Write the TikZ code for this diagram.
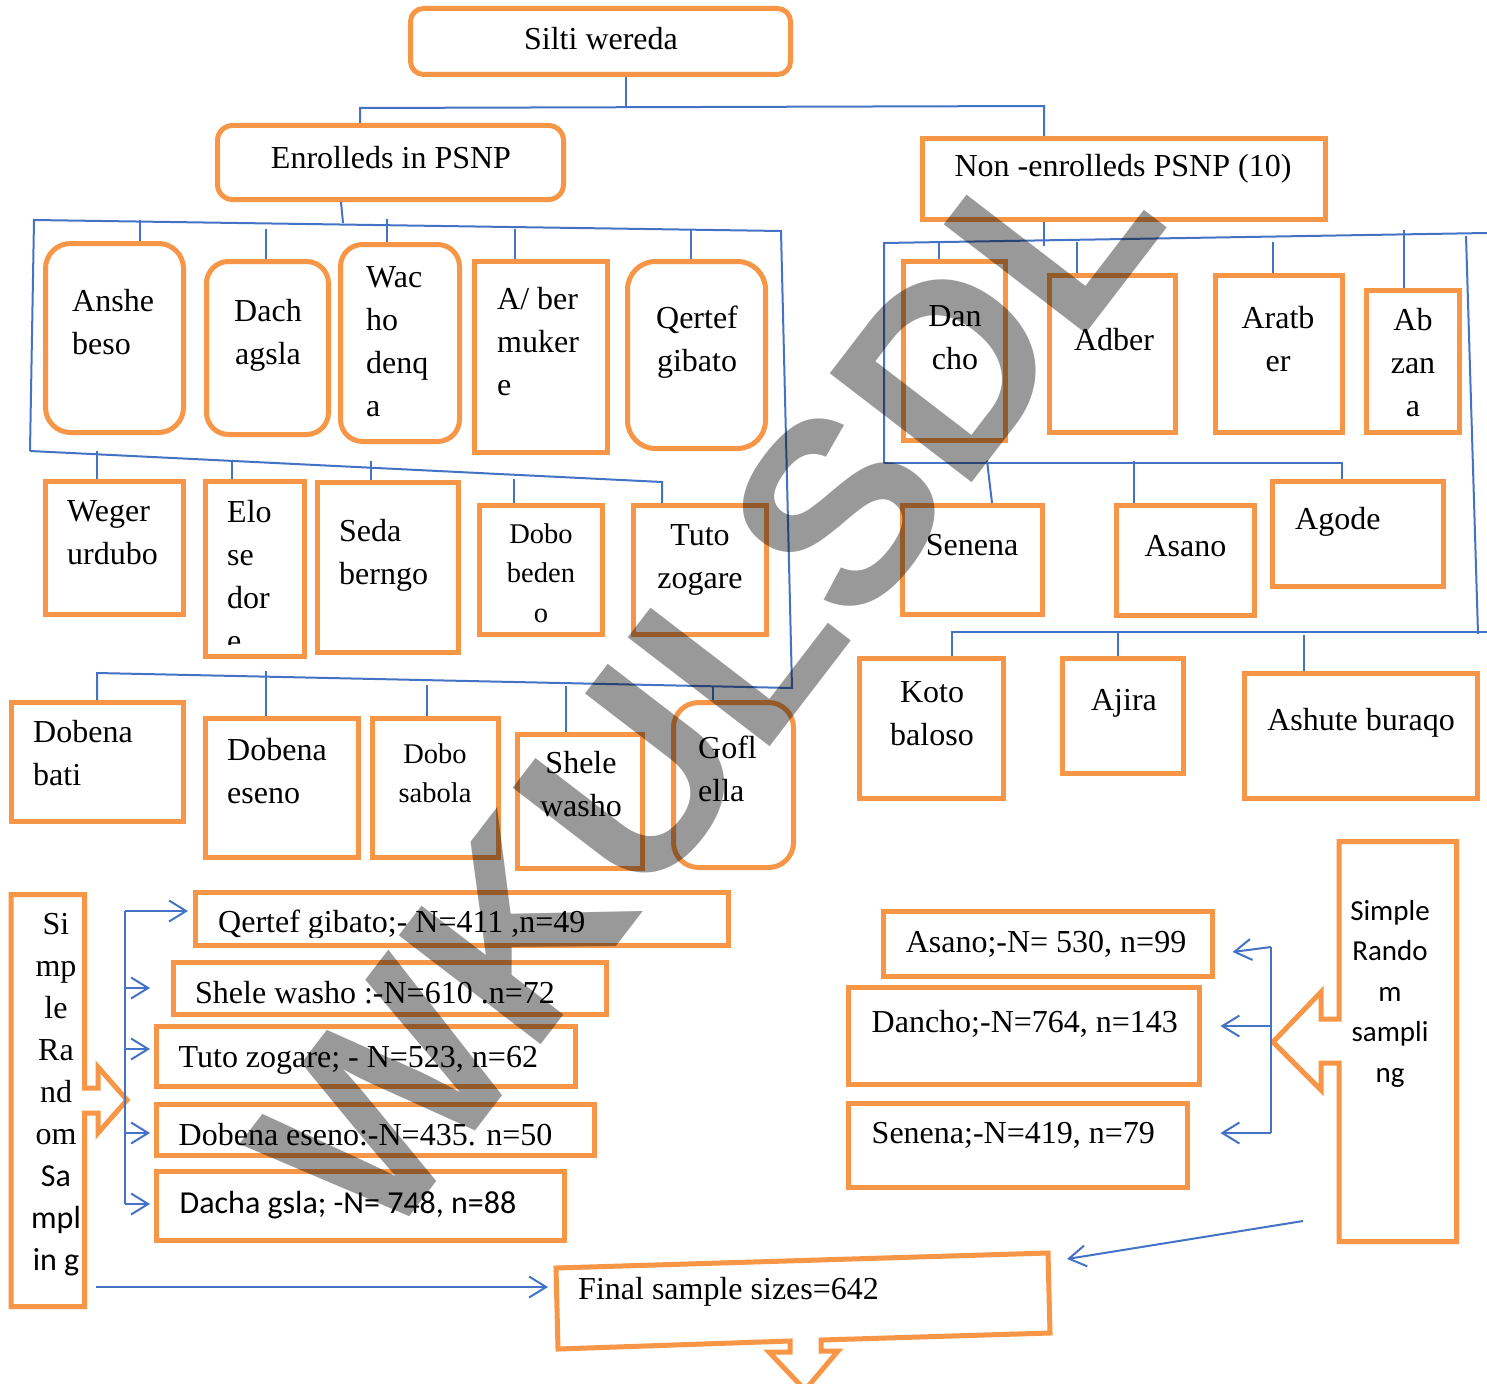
\documentclass[tikz,border=0pt]{standalone}
\usepackage{fontspec}
\setmainfont{Liberation Serif}
\newfontfamily\calfont{Carlito}
\newfontfamily\wmfont{Liberation Sans}
\usetikzlibrary{arrows.meta, fit}
\definecolor{cBox}{RGB}{247,150,70}
\definecolor{cLine}{RGB}{68,114,196}
\newcommand{\fmain}{\fontsize{32}{43}\selectfont}
\newcommand{\fsmall}{\fontsize{28.5}{39.5}\selectfont}
\newcommand{\fcal}{\calfont\fontsize{32}{43}\selectfont}
\newcommand{\fsrs}{\calfont\fontsize{29}{40.5}\selectfont}

\begin{document}
\begin{tikzpicture}[x=1pt, y=-1pt,
      box/.style={draw=cBox, line width=5pt, fill=white, inner sep=0pt},
      rbox/.style={box, rounded corners=22pt},
      txt/.style={font=\fmain, inner sep=0pt, align=left},
      ctxt/.style={txt, align=center},
      wire/.style={draw=cLine, line width=2pt},
      >={Straight Barb[length=17pt, width=21pt]}]
  \useasboundingbox (0,0) rectangle (1487,1383);
  \fill[white] (0,0) rectangle (1487,1383);

  % top level
  \node[rbox, rounded corners=13pt, fit={(410.5,8.5) (790.5,74.5)}] (silti) {};
  \node[rbox, rounded corners=15pt, fit={(217.5,125.5) (563.5,199.5)}] (enr) {};
  \node[box, fit={(922.5,138.5) (1325,219.5)}] (non) {};
  \node[ctxt, anchor=base] (silti-t) at (601,50) {Silti wereda};
  \node[ctxt, anchor=base] (enr-t) at (391,168) {Enrolleds in PSNP};
  \node[ctxt, anchor=base] (non-t) at (1123,177) {Non -enrolleds PSNP (10)};

  % enrolled kebeles (base = last line)
  \node[rbox, rounded corners=25pt, fit={(45.5,243.5) (183.5,432.5)}] (anshe) {};
  \node[rbox, fit={(206.5,261.5) (328.5,434.5)}] (dach) {};
  \node[rbox, fit={(340.5,244.5) (459.5,441.5)}] (wac) {};
  \node[box, fit={(474.5,261.5) (607.5,452.5)}] (aber) {};
  \node[rbox, rounded corners=28pt, fit={(627.5,261.5) (765.5,448.5)}] (qert) {};
  \node[box, fit={(45.5,481.5) (183.5,614.5)}] (weger) {};
  \node[box, fit={(205.5,481.5) (304.5,656.5)}] (elo) {};
  \node[box, fit={(317.5,482.5) (458.5,652.5)}] (seda) {};
  \node[box, fit={(479.5,505.5) (602.5,634.5)}] (dbeden) {};
  \node[box, fit={(633.5,505.5) (766.5,634.5)}] (tuto) {};
  \node[box, fit={(11.5,702.5) (183.5,821.5)}] (dbati) {};
  \node[box, fit={(205.5,718.5) (358.5,857.5)}] (deseno) {};
  \node[box, fit={(372.5,718.5) (498.5,857.5)}] (dsabola) {};
  \node[box, fit={(517.5,734.5) (642.5,868.5)}] (shele) {};
  \node[rbox, rounded corners=25pt, fit={(673.5,702.5) (793.5,867.5)}] (gofl) {};

  \node[txt, anchor=base west] (anshe-t) at (72,354) {Anshe\\beso};
  \node[ctxt, anchor=base] (dach-t) at (268,364) {Dach\\agsla};
  \node[txt, anchor=base west] (wac-t) at (366,416) {Wac\\ho\\denq\\a};
  \node[txt, anchor=base west] (aber-t) at (497,395) {A/ ber\\muker\\e};
  \node[ctxt, anchor=base] (qert-t) at (697,371) {Qertef\\gibato};
  \node[txt, anchor=base west] (weger-t) at (67,564) {Weger\\urdubo};
  \begin{scope}
    \clip (208,484) rectangle (302,644);
    \node[txt, anchor=base west] (elo-t) at (227,651) {Elo\\se\\dor\\e};
  \end{scope}
  \node[txt, anchor=base west] (seda-t) at (339,584) {Seda\\berngo};
  \node[ctxt, font=\fsmall, anchor=base] (dbeden-t) at (541,622) {Dobo\\beden\\o};
  \node[ctxt, anchor=base] (tuto-t) at (700,588) {Tuto\\zogare};
  \node[txt, anchor=base west] (dbati-t) at (33,785) {Dobena\\bati};
  \node[txt, anchor=base west] (deseno-t) at (227,803) {Dobena\\eseno};
  \node[ctxt, font=\fsmall, anchor=base] (dsabola-t) at (435,802.5) {Dobo\\sabola};
  \node[ctxt, anchor=base] (shele-t) at (581,816) {Shele\\washo};
  \node[txt, anchor=base west] (gofl-t) at (698,801) {Gofl\\ella};

  % non-enrolled kebeles
  \node[box, fit={(903.5,261.5) (1005.5,440.5)}] (dancho) {};
  \node[box, fit={(1049.5,275.5) (1175.5,432.5)}] (adber) {};
  \node[box, fit={(1215.5,275.5) (1342.5,432.5)}] (aratber) {};
  \node[box, fit={(1366.5,290.5) (1459.5,432.5)}] (abzana) {};
  \node[box, fit={(902.5,505.5) (1042.5,614.5)}] (senena) {};
  \node[box, fit={(1116.5,505.5) (1254.5,615.5)}] (asano) {};
  \node[box, fit={(1272.5,481.5) (1443.5,586.5)}] (agode) {};
  \node[box, fit={(859.5,658.5) (1003.5,798.5)}] (koto) {};
  \node[box, fit={(1062.5,658.5) (1183.5,773.5)}] (ajira) {};
  \node[box, fit={(1244.5,673.5) (1477.5,798.5)}] (ashute) {};

  \node[ctxt, anchor=base] (dancho-t) at (955,369) {Dan\\cho};
  \node[ctxt, anchor=base] (adber-t) at (1114,350) {Adber};
  \node[ctxt, anchor=base] (aratber-t) at (1278,371) {Aratb\\er};
  \node[ctxt, anchor=base] (abzana-t) at (1413,416) {Ab\\zan\\a};
  \node[ctxt, anchor=base] (senena-t) at (972,555) {Senena};
  \node[ctxt, anchor=base] (asano-t) at (1185.5,556) {Asano};
  \node[txt, anchor=base west] (agode-t) at (1295,529) {Agode};
  \node[ctxt, anchor=base] (koto-t) at (932,745) {Koto\\baloso};
  \node[ctxt, anchor=base] (ajira-t) at (1124,710) {Ajira};
  \node[ctxt, anchor=base] (ashute-t) at (1361,730) {Ashute buraqo};

  % connectors of the tree
  \coordinate (forkT) at (626,107);
  \coordinate (forkL) at (360,108);
  \coordinate (forkR) at (1044,106);
  \draw[wire] (silti.south -| forkT) -- (forkT);
  \draw[wire] (enr.north -| forkL) -- (forkL) -- (forkR) -- (non.north -| forkR);

  \coordinate (busA1) at (34,220);
  \coordinate (busA2) at (781,231);
  \coordinate (busB1) at (30,451);
  \coordinate (busB2) at (662,482);
  \coordinate (busC1) at (97,673);
  \coordinate (busC2) at (792,688);
  \draw[wire] ([xshift=-49.5pt]enr.south) -- ++(2,21);
  \draw[wire] (busB1) -- (busA1) -- (busA2) -- (busC2) -- (busC1) -- (dbati.north -| busC1);
  \draw[wire] (busB1) -- (busB2) -- (tuto.north -| busB2);
  \draw[wire] ([xshift=25.5pt]anshe.north) -- ++(0,-21.5);
  \draw[wire] ([xshift=-1.5pt]dach.north) -- ++(0,-30.5);
  \draw[wire] ([xshift=-13pt]wac.north) -- ++(0,-23.5);
  \draw[wire] ([xshift=-26pt]aber.north) -- ++(0,-30.5);
  \draw[wire] ([xshift=-5.5pt]qert.north) -- ++(0,-30.5);
  \draw[wire] ([xshift=-17.5pt]weger.north) -- ++(0,-28.5);
  \draw[wire] ([xshift=-23pt]elo.north) -- ++(0,-18.5);
  \draw[wire] ([xshift=-17pt]seda.north) -- ++(0,-19.5);
  \draw[wire] ([xshift=-27pt]dbeden.north) -- ++(0,-24.5);
  \draw[wire] ([xshift=-16pt]deseno.north) -- ++(0,-45.5);
  \draw[wire] ([xshift=-8.5pt]dsabola.north) -- ++(0,-31.5);
  \draw[wire] ([xshift=-14pt]shele.north) -- ++(0,-46.5);
  \draw[wire] ([xshift=-20.5pt]gofl.north) -- ++(0,-14.5);

  \coordinate (busD1) at (884,243);
  \coordinate (busD2) at (1487,233);
  \coordinate (busE1) at (884,463);
  \coordinate (busE2) at (1342,463);
  \coordinate (busF1) at (1466,236);
  \coordinate (busF2) at (1478,634);
  \coordinate (busG1) at (952,632);
  \coordinate (busG2) at (1487,632);
  \draw[wire] (non.south -| forkR) -- ++(0,23.5);
  \draw[wire] (busE1) -- (busD1) -- (busD2);
  \draw[wire] (busE1) -- (busE2) -- (agode.north -| busE2);
  \draw[wire] (busF1) -- (busF2);
  \draw[wire] (koto.north -| busG1) -- (busG1) -- (busG2);
  \draw[wire] ([xshift=-15.5pt]dancho.north) -- ++(0,-18.5);
  \draw[wire] ([xshift=-35.5pt]adber.north) -- ++(0,-31.5);
  \draw[wire] ([xshift=-6pt]aratber.north) -- ++(0,-31.5);
  \draw[wire] ([xshift=-9pt]abzana.north) -- ++(0,-58.5);
  \draw[wire] ([xshift=19.5pt]senena.north) -- ++(-5,-42.5);
  \draw[wire] ([xshift=-51.5pt]asano.north) -- ++(0,-42.5);
  \draw[wire] ([xshift=-5pt]ajira.north) -- ++(0,-24.5);
  \draw[wire] ([xshift=-57pt]ashute.north) -- ++(0,-36.5);

  % sampling, enrolled side
  \draw[box] (11,894.5) -- (84.5,894.5) -- (84.5,1088) -- (98,1088) -- (98,1067)
    -- (127,1100) -- (98,1133) -- (98,1113) -- (84.5,1113) -- (84.5,1306.5)
    -- (11,1306.5) -- cycle;
  \node[ctxt, font=\fontsize{32}{42}\selectfont, anchor=base] (srsL) at (56,1270)
    {Si\\mp\\le\\Ra\\nd\\om\\{\calfont Sa}\\{\calfont mpl}\\{\calfont in g}};
  \node[box, fit={(195.5,892.5) (728.5,945.5)}] (nQert) {};
  \node[box, fit={(173.5,962.5) (606.5,1014.5)}] (nShele) {};
  \node[box, fit={(156.5,1026.5) (575,1086.5)}] (nTuto) {};
  \node[box, fit={(156.5,1104.5) (594.5,1155.5)}] (nDobena) {};
  \node[box, fit={(156.5,1171.5) (564.5,1240.5)}] (nDacha) {};
  \begin{scope}
    \clip (198,895) rectangle (726,937);
    \node[txt, anchor=base west] (nQert-t) at (218,932) {Qertef gibato;- N=411 ,n=49};
  \end{scope}
  \node[txt, anchor=base west] (nShele-t) at (195,1003) {Shele washo :-N=610 .n=72};
  \node[txt, anchor=base west] (nTuto-t) at (178.5,1067) {Tuto zogare; - N=523, n=62};
  \node[txt, anchor=base west] (nDobena-t) at (178.5,1145) {Dobena eseno:-N=435. n=50};
  \node[txt, font=\fcal, anchor=base west] (nDacha-t) at (179.5,1213) {Dacha gsla; -N= 748, n=88};

  \coordinate (brL1) at (125,911);
  \coordinate (brL2) at (125,988);
  \coordinate (brL3) at (125,1049);
  \coordinate (brL4) at (125,1133);
  \coordinate (brL5) at (125,1204);
  \draw[wire] (brL1) -- (brL5);
  \draw[wire, ->, shorten >=5pt] (brL1) -- (nQert.west |- brL1);
  \draw[wire, ->, shorten >=21pt] (brL2) -- (nShele.west |- brL2);
  \draw[wire, ->, shorten >=4pt] (brL3) -- (nTuto.west |- brL3);
  \draw[wire, ->, shorten >=4pt] (brL4) -- (nDobena.west |- brL4);
  \draw[wire, ->, shorten >=4pt] (brL5) -- (nDacha.west |- brL5);

  % sampling, non-enrolled side
  \draw[box] (1339,841.5) -- (1456.5,841.5) -- (1456.5,1241.5) -- (1339,1241.5)
    -- (1339,1063) -- (1321,1063) -- (1321,1090) -- (1273,1042) -- (1321,992)
    -- (1321,1019) -- (1339,1019) -- cycle;
  \node[ctxt, font=\fsrs, anchor=base] (srsR) at (1390,1082) {Simple\\Rando\\m\\sampli\\ng};
  \node[box, fit={(883.5,911.5) (1212.5,976.5)}] (nAsano) {};
  \node[box, fit={(848.5,987.5) (1199.5,1084.5)}] (nDancho) {};
  \node[box, fit={(848.5,1103.5) (1187.5,1187.5)}] (nSenena) {};
  \node[ctxt, anchor=base] (nAsano-t) at (1046,952) {Asano;-N= 530, n=99};
  \node[txt, anchor=base west] (nDancho-t) at (871.5,1032) {Dancho;-N=764, n=143};
  \node[txt, anchor=base west] (nSenena-t) at (871.5,1143) {Senena;-N=419, n=79};

  \coordinate (brR1) at (1271,947);
  \coordinate (brR2) at (1271,1026);
  \coordinate (brR3) at (1271,1133);
  \draw[wire] (brR1) -- (brR3);
  \draw[wire, ->] (brR1) -- ([shift={(17.5,8)}]nAsano.east);
  \draw[wire, ->] (brR2) -- ([shift={(18.5,-10)}]nDancho.east);
  \draw[wire, ->] (brR3) -- ([shift={(30.5,-12.5)}]nSenena.east);

  % final sample
  \draw[box] (556,1268) -- (1048,1253) -- (1050,1333) -- (821,1340) -- (821,1351)
    -- (838,1351) -- (805,1390) -- (769,1352) -- (790,1352) -- (790,1341)
    -- (558,1349) -- cycle;
  \node[txt, anchor=base west] (final) at (578,1299) {Final sample sizes=642};
  \coordinate (srsLout) at (96,1287);
  \coordinate (finW) at (548,1287);
  \coordinate (srsRout) at (1303,1221);
  \coordinate (finE) at (1067,1259);
  \draw[wire, ->] (srsLout) -- (finW);
  \draw[wire, ->] (srsRout) -- (finE);

  % watermark
  \node[rotate=52.5, inner sep=0pt, text=black, text opacity=0.4,
        font=\wmfont\bfseries\fontsize{260}{260}\selectfont] (wmark) at (706,683) {WKULSDL};
\end{tikzpicture}
\end{document}
